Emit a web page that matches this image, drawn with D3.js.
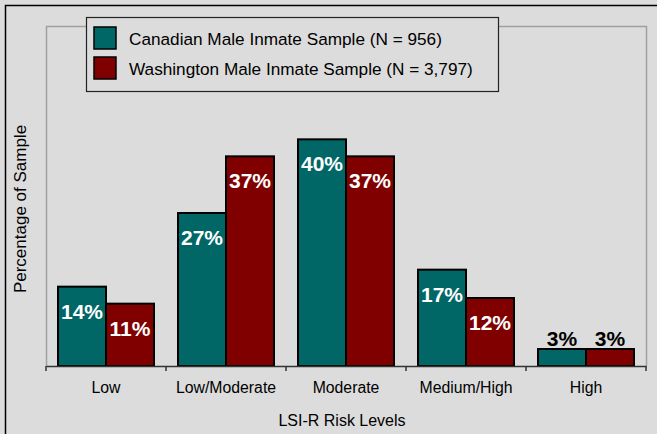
<!DOCTYPE html>
<html>
<head>
<meta charset="utf-8">
<script src="https://cdn.jsdelivr.net/npm/d3@7"></script>
<style>
  body { margin: 0; background: #dcdcdc; }
  svg { display: block; font-family: "Liberation Sans", Arial, sans-serif; }
</style>
</head>
<body>
<div id="chart"></div>
<script>
// chart data
const categories = ['Low', 'Low/Moderate', 'Moderate', 'Medium/High', 'High'];
const seriesNames = ['Canadian Male Inmate Sample (N = 956)', 'Washington Male Inmate Sample (N = 3,797)'];
const canadian = [14, 27, 40, 17, 3];
const washington = [11, 37, 37, 12, 3];
const colors = ['#006666', '#800000'];

const svg = d3.select('#chart')
    .append('svg')
    .attr('width', 657)
    .attr('height', 434);

const margin = { top: 26, right: 11, bottom: 68, left: 46 };
const width = 657 - margin.left - margin.right;
const height = 434 - margin.top - margin.bottom;

// outer frame (only top/left edges are inside the picture)
svg.append('rect')
    .attr('x', 5.5).attr('y', 5.5)
    .attr('width', 660).attr('height', 440)
    .attr('fill', '#dcdcdc')
    .attr('stroke', '#000')
    .attr('stroke-width', 1.5);

const g = svg.append('g')
    .attr('transform', 'translate(' + margin.left + ',' + margin.top + ')');

const xBand = d3.scaleBand().domain(categories).range([0, width]);
const y = d3.scaleLinear().domain([0, 60]).range([height, 0]);

// plot area border
g.append('path')
    .attr('d', 'M0.5,' + height + 'V0.5H' + (width + 0.5) + 'V' + height)
    .attr('fill', 'none')
    .attr('stroke', '#a0a0a0')
    .attr('stroke-width', 1.5);

const rows = categories.map((c, i) => ({ cat: c, vals: [canadian[i], washington[i]] }));

const groups = g.selectAll('.grp')
    .data(rows)
    .enter().append('g')
    .attr('class', 'grp')
    .attr('transform', d => 'translate(' + (xBand(d.cat) + xBand.bandwidth() * 0.1) + ',0)');

const gx = d3.scaleBand().domain([0, 1]).range([0, xBand.bandwidth() * 0.8]);

groups.selectAll('rect')
    .data(d => d.vals.map((v, k) => ({ v, k })))
    .enter().append('rect')
    .attr('x', d => gx(d.k))
    .attr('y', d => y(d.v))
    .attr('width', gx.bandwidth())
    .attr('height', d => height - y(d.v))
    .attr('fill', d => colors[d.k])
    .attr('stroke', '#000')
    .attr('stroke-width', 2);

groups.selectAll('.lbl')
    .data(d => d.vals.map((v, k) => ({ v, k })))
    .enter().append('text')
    .attr('class', 'lbl')
    .attr('x', d => gx(d.k) + gx.bandwidth() / 2)
    .attr('y', d => d.v < 8 ? y(d.v) - 3 : y(d.v) + 32)
    .attr('text-anchor', 'middle')
    .style('font-size', '21px')
    .style('font-weight', 'bold')
    .attr('fill', d => d.v < 8 ? '#000' : '#fff')
    .text(d => d.v + '%');

// x axis
const xAxis = g.append('g')
    .attr('transform', 'translate(0,' + height + ')')
    .call(d3.axisBottom(xBand).tickSize(0).tickPadding(16));
xAxis.select('.domain').attr('stroke', '#333').attr('stroke-width', 1.5);
xAxis.selectAll('text').style('font-size', '15.8px').attr('fill', '#000')
    .style('font-family', '"Liberation Sans", Arial, sans-serif');

const bounds = categories.map(c => xBand(c)).concat([width]);
xAxis.selectAll('.sep')
    .data(bounds)
    .enter().append('line')
    .attr('class', 'sep')
    .attr('x1', d => d).attr('x2', d => d)
    .attr('y1', 0).attr('y2', 5)
    .attr('stroke', '#333')
    .attr('stroke-width', 1.5);

// axis titles
svg.append('text')
    .attr('x', 342)
    .attr('y', 426)
    .attr('text-anchor', 'middle')
    .style('font-size', '16px')
    .text('LSI-R Risk Levels');

svg.append('text')
    .attr('transform', 'translate(26,209) rotate(-90)')
    .attr('text-anchor', 'middle')
    .style('font-size', '17px')
    .text('Percentage of Sample');

// legend
const legend = svg.append('g').attr('transform', 'translate(86,17)');
legend.append('rect')
    .attr('x', 0.5).attr('y', 0.5)
    .attr('width', 412).attr('height', 74)
    .attr('fill', '#dcdcdc')
    .attr('stroke', '#222')
    .attr('stroke-width', 1.2);

seriesNames.forEach((name, i) => {
    legend.append('rect')
        .attr('x', 8).attr('y', 10 + i * 30)
        .attr('width', 22).attr('height', 22)
        .attr('fill', colors[i])
        .attr('stroke', '#000')
        .attr('stroke-width', 1.5);
    legend.append('text')
        .attr('x', 43).attr('y', 28 + i * 30)
        .style('font-size', '17.2px')
        .text(name);
});
</script>
</body>
</html>
